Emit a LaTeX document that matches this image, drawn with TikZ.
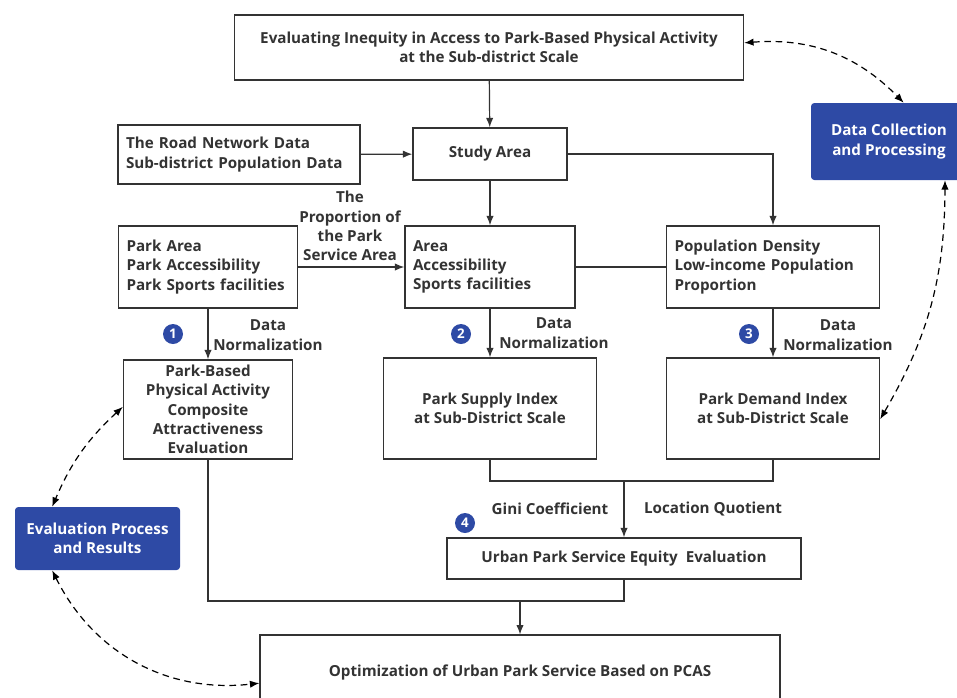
\documentclass[tikz,border=0pt]{standalone}
\usepackage{fontspec}
\setmainfont{Open Sans}
\usetikzlibrary{arrows.meta}
\definecolor{boxblue}{RGB}{46,74,165}
\definecolor{inkgray}{RGB}{51,51,51}
\begin{document}
\begin{tikzpicture}[x=0.75pt,y=-0.75pt,
  font=\bfseries\fontsize{11.4}{14.5}\selectfont, text=inkgray,
  box/.style={draw=inkgray,line width=1.1pt,fill=white,align=center,inner sep=6pt},
  lbox/.style={box,align=left,inner xsep=6pt,inner ysep=4pt},
  bluebox/.style={fill=boxblue,rounded corners=2.5pt,text=white,align=center},
  arr/.style={draw=inkgray,line width=0.9pt,-{Latex[length=7pt,width=5.5pt]}},
  line/.style={draw=inkgray,line width=0.9pt},
  dasharr/.style={line width=0.9pt,dash pattern=on 5pt off 3.5pt,{Latex[length=7pt,width=5.5pt]}-{Latex[length=7pt,width=5.5pt]}},
  num/.style={circle,fill=boxblue,text=white,inner sep=0pt,minimum size=15pt,font=\bfseries\fontsize{10}{10}\selectfont}]
\useasboundingbox (0,0) rectangle (957,697);

% Main boxes
\node[box,minimum width=381.75pt,minimum height=48.75pt] (title) at (489,47.5)
  {Evaluating Inequity in Access to Park-Based Physical Activity\\at the Sub-district Scale};
\node[box,minimum width=115.5pt,minimum height=39pt] (study) at (490,154) {Study Area};
\node[lbox,text width=169.5pt,minimum height=44.25pt] (road) at (239,154.5)
  {The Road Network Data\\Sub-district Population Data};
\node[lbox,text width=122.25pt,minimum height=61.5pt] (parkarea) at (208,267)
  {Park Area\\Park Accessibility\\Park Sports facilities};
\node[lbox,text width=115.5pt,minimum height=61.5pt] (area) at (490,267)
  {Area\\Accessibility\\Sports facilities};
\node[lbox,text width=147.75pt,minimum height=61.5pt] (popu) at (773,267)
  {Population Density\\Low-income Population\\Proportion};
\node[box,minimum width=126.75pt,minimum height=74.25pt,inner sep=2pt] (attract) at (208,409.5)
  {Park-Based\\Physical Activity\\Composite\\Attractiveness\\Evaluation};
\node[box,minimum width=159.75pt,minimum height=75.75pt] (supply) at (490,408.5)
  {Park Supply Index\\at Sub-District Scale};
\node[box,minimum width=159.75pt,minimum height=75.75pt] (demand) at (773,408.5)
  {Park Demand Index\\at Sub-District Scale};
\node[box,minimum width=265.5pt,minimum height=30.75pt] (equity) at (624,558.5)
  {Urban Park Service Equity\ \ Evaluation};
\node[box,minimum width=390pt,minimum height=56pt] (optim) at (520,672.5)
  {Optimization of Urban Park Service Based on PCAS};

% Side boxes
\node[bluebox,minimum width=117pt,minimum height=57.75pt] (collect) at (889,141.5)
  {Data Collection\\and Processing};
\node[bluebox,minimum width=123.75pt,minimum height=47.25pt] (evalres) at (97.5,538.5)
  {Evaluation Process\\and Results};

% Flow
\draw[arr] (title) -- (study);
\draw[arr] (road) -- (study);
\draw[arr] (study) -- (area);
\draw[arr] (study.east) -| (popu.north);
\draw[arr] (parkarea) -- (area);
\draw[line] (area) -- (popu);
\draw[arr] (parkarea) -- (attract);
\draw[arr] (area) -- (supply);
\draw[arr] (popu) -- (demand);

\coordinate (merge) at (624,481);
\draw[line] (supply.south) |- (merge) -| (demand.south);
\draw[arr] (merge) -- (equity.north);
\coordinate (join) at (520,601);
\draw[line] (attract.south) |- (join) -| (equity.south);
\draw[arr] (join) -- (optim.north);

% Labels
\node[align=center] (share) at (350,226) {The\\Proportion of\\the Park\\Service Area};
\node[align=center] (norm1) at (268,335) {Data\\Normalization};
\node[align=center] (norm2) at (554,333) {Data\\Normalization};
\node[align=center] (norm3) at (838,335) {Data\\Normalization};
\node (gini) at (550,509) {Gini Coefficient};
\node (lq) at (713,509) {Location Quotient};

% Step numbers
\node[num] (n1) at (173,334) {1};
\node[num] (n2) at (461,334) {2};
\node[num] (n3) at (749,334) {3};
\node[num] (n4) at (465,523) {4};

% Feedback loops
\draw[dasharr] ([yshift=3.5pt]title.east) to[bend left=25] ([xshift=11pt]collect.north);
\draw[dasharr] ([xshift=42pt]collect.south) to[bend left=15] ([yshift=-8pt]demand.east);
\draw[dasharr] ([yshift=2pt]attract.west) to[bend right=12] ([xshift=-34pt]evalres.north);
\draw[dasharr] ([xshift=-34pt]evalres.south) to[bend right=35] ([yshift=-8pt]optim.west);
\end{tikzpicture}
\end{document}
